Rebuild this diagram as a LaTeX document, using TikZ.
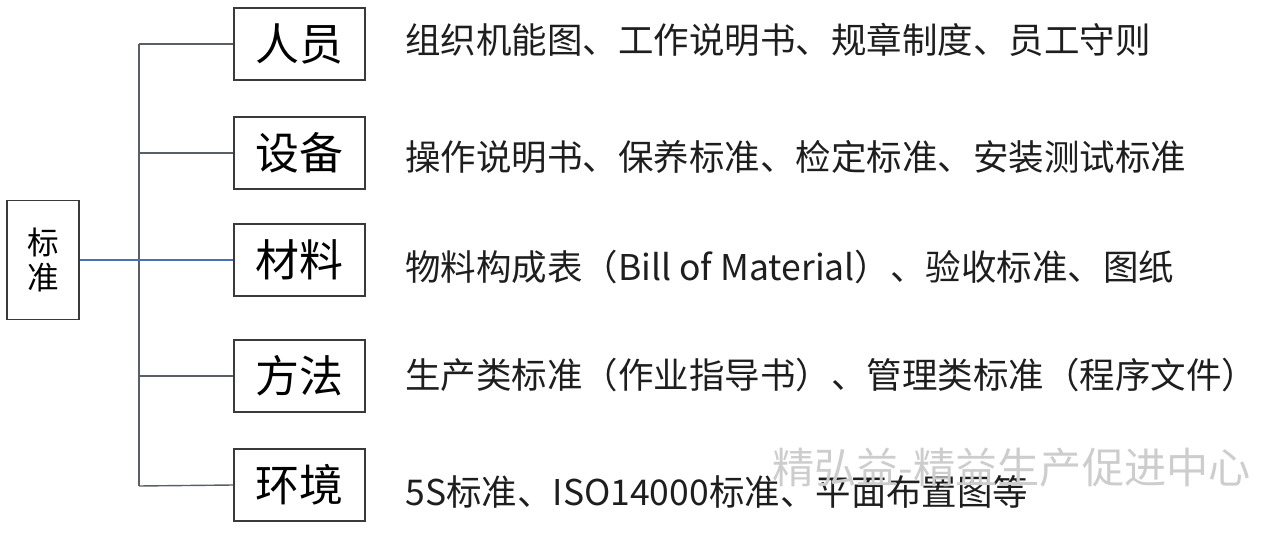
\documentclass[tikz,border=0pt]{standalone}
\usepackage{fontspec}
\setmainfont{Noto Sans CJK SC}
\usepackage{xcolor}
\usepackage{tikz}
\usetikzlibrary{positioning, calc}
\definecolor{framegray}{HTML}{3A3A3A}
\definecolor{linegray}{HTML}{5A5F66}
\definecolor{lineblue}{HTML}{4A6FB5}
\definecolor{textdark}{HTML}{1E1E1E}
\definecolor{markgray}{HTML}{CDCDCD}
\tikzset{
    catbox/.style={draw=framegray, line width=1pt, minimum width=2.62cm,
                   minimum height=1.44cm, inner sep=0pt, font=\fontsize{25}{28}\selectfont},
    rootbox/.style={draw=framegray, line width=1pt, minimum width=1.44cm,
                    minimum height=2.38cm, inner sep=0pt, align=center,
                    font=\fontsize{18}{22}\selectfont},
    desc/.style={anchor=west, inner sep=0pt, text=textdark,
                 font=\fontsize{20.2}{22}\selectfont},
    branch/.style={draw=linegray, line width=0.8pt}
}

\begin{document}
\begin{tikzpicture}[x=0.02cm, y=-0.02cm]
        \useasboundingbox (0,0) rectangle (1280,540);
        % root
        \node[rootbox] (root) at (43,260) {标\\[-2pt]准};
        % categories
        \node[catbox] (ppl) at (299.5,44)  {人员};
        \node[catbox] (eqp) at (299.5,153) {设备};
        \node[catbox] (mat) at (299.5,260) {材料};
        \node[catbox] (mth) at (299.5,376) {方法};
        \node[catbox] (env) at (299.5,485) {环境};
        % trunk
        \coordinate (top) at (139,44);
        \coordinate (bot) at (139,486);
        \draw[branch] (top) -- (bot);
        \draw[branch] (top) -- (ppl.west);
        \draw[branch] (eqp.west) -- (eqp.west -| top);
        \draw[branch] (mth.west) -- (mth.west -| top);
        \draw[branch] (env.west) -- (bot);
        \draw[draw=lineblue, line width=0.8pt] (root.east) -- (mat.west);
        % descriptions
        \node[desc] (d1) at (405,40)  {组织机能图、工作说明书、规章制度、员工守则};
        \node[desc] (d2) at (405,157) {操作说明书、保养标准、检定标准、安装测试标准};
        \node[desc] (d3) at (405,267) {物料构成表（Bill of Material）、验收标准、图纸};
        \node[desc] (d4) at (405,375) {生产类标准（作业指导书）、管理类标准（程序文件）};
        \node[desc] (d5) at (405,492) {5S标准、ISO14000标准、平面布置图等};
        % watermark
        \node[anchor=west, inner sep=0pt, text=markgray,
              font=\fontsize{24}{26}\selectfont] (mark) at (772,468) {精弘益-精益生产促进中心};
    \end{tikzpicture}
\end{document}
